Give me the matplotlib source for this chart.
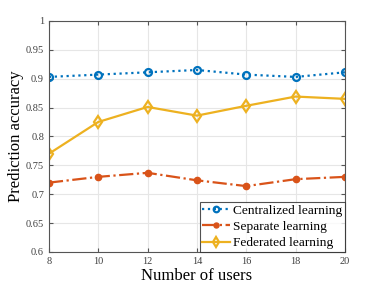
import matplotlib
matplotlib.use("Agg")
import matplotlib.pyplot as plt

users = [8, 10, 12, 14, 16, 18, 20]
centralized = [0.903, 0.907, 0.911, 0.915, 0.907, 0.903, 0.911]
separate = [0.720, 0.730, 0.737, 0.724, 0.714, 0.726, 0.730]
federated = [0.770, 0.825, 0.851, 0.836, 0.853, 0.869, 0.865]
yticks = [0.6, 0.65, 0.7, 0.75, 0.8, 0.85, 0.9, 0.95, 1]
yticklabels = ["0.6", "0.65", "0.7", "0.75", "0.8", "0.85", "0.9", "0.95", "1"]

plt.rcParams['font.family'] = ['Liberation Serif', 'DejaVu Serif']

fig = plt.figure(figsize=(3.82, 2.86), dpi=100)
ax = fig.add_axes([0.128, 0.119, 0.775, 0.808])

ax.plot(users, centralized, color='#0072BD', linestyle=':', linewidth=1.6,
        marker='o', markersize=5, markerfacecolor='none', markeredgewidth=1.6,
        label='Centralized learning')
ax.plot(users, separate, color='#D95319', linestyle='-.', linewidth=1.6,
        marker='o', markersize=4.5, markerfacecolor='#D95319',
        label='Separate learning')
ax.plot(users, federated, color='#EDB120', linestyle='-', linewidth=1.6,
        marker='d', markersize=6, markerfacecolor='none', markeredgewidth=1.6,
        label='Federated learning')

ax.set_xlim(8, 20)
ax.set_ylim(0.6, 1)
ax.set_xticks(users)
ax.set_yticks(yticks)
ax.set_yticklabels(yticklabels)
ax.tick_params(direction='in', labelsize=7.5, colors='#555555', length=3,
               top=True, right=True, labelcolor='#404040')
ax.grid(True, color='#e6e6e6', linewidth=0.8)
ax.set_axisbelow(True)
for s in ax.spines.values():
    s.set_color('#555555')
    s.set_linewidth(0.8)

ax.set_xlabel('Number of users', fontsize=12)
ax.set_ylabel('Prediction accuracy', fontsize=12)
ax.xaxis.set_label_coords(0.5, -0.07)
ax.yaxis.set_label_coords(-0.083, 0.5)

leg = ax.legend(loc='lower right', fontsize=9.6, frameon=True, fancybox=False,
                edgecolor='#262626', borderpad=0.2, labelspacing=0.3,
                handlelength=2.1, handletextpad=0.2, borderaxespad=0.0,
                markerscale=0.8)
leg.get_frame().set_linewidth(0.8)

fig.savefig('out.png', dpi=100)
